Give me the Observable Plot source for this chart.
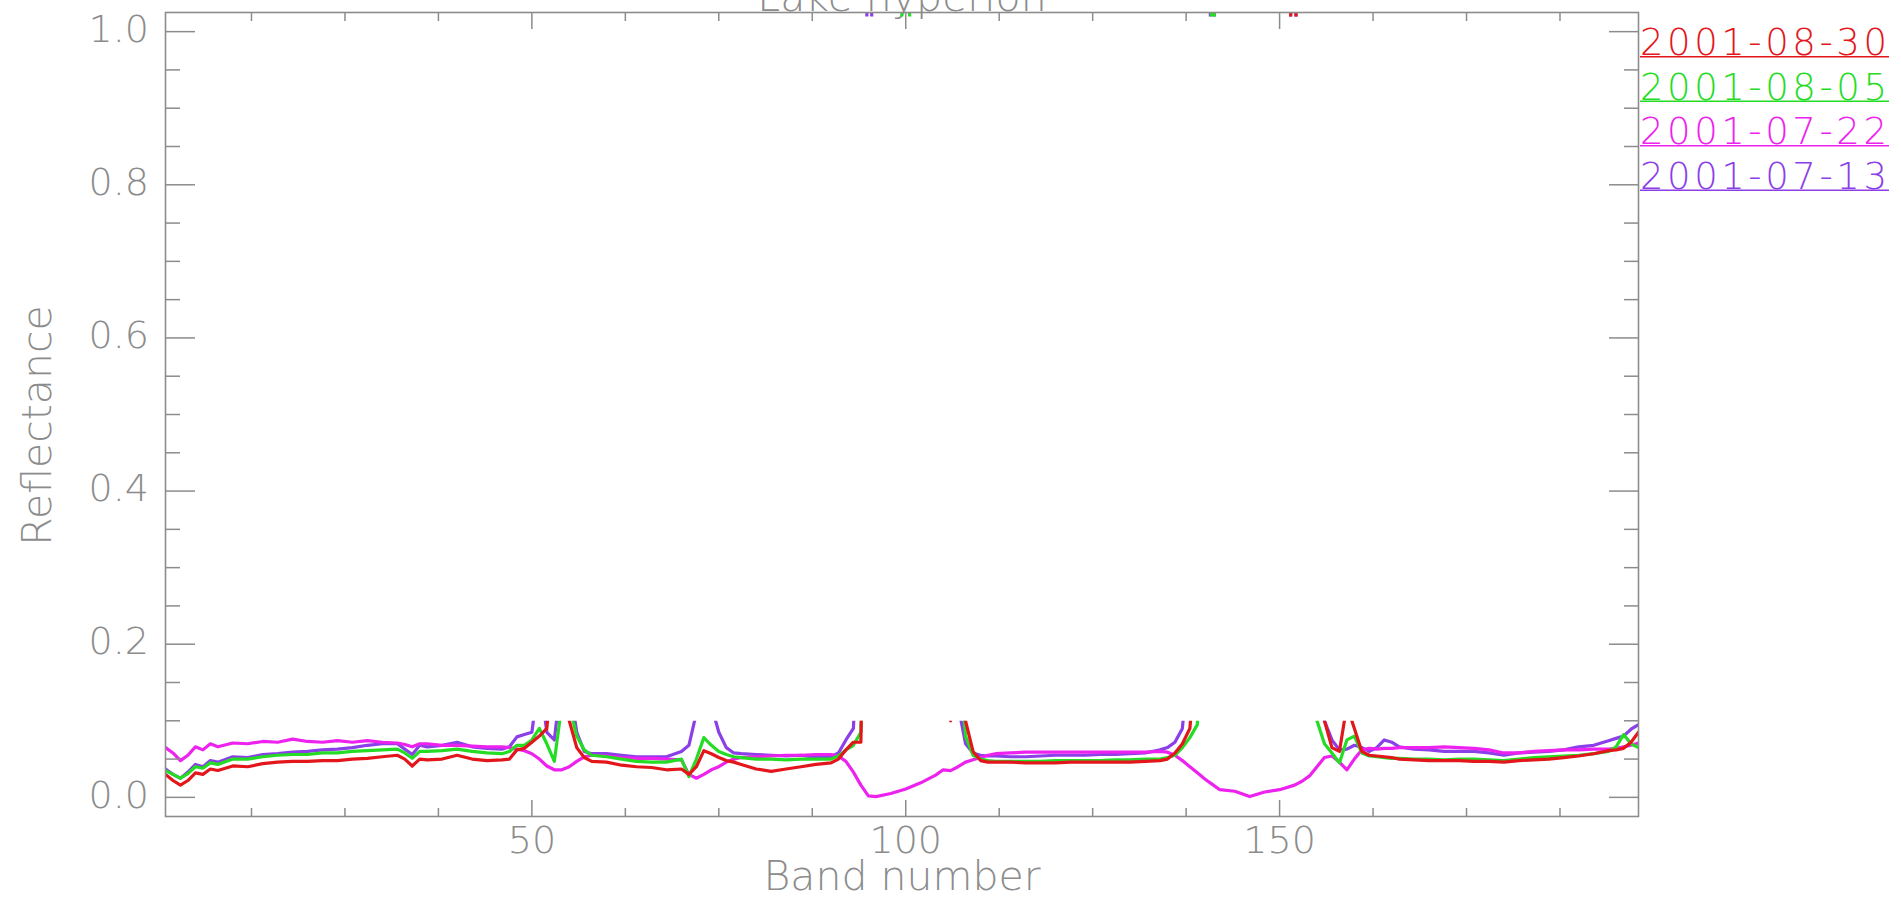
<!DOCTYPE html>
<html><head><meta charset="utf-8">
<script src="https://cdn.jsdelivr.net/npm/d3@7"></script>
<script src="https://cdn.jsdelivr.net/npm/@observablehq/plot@0.6"></script>
<style>
html,body{margin:0;padding:0;background:#fff;overflow:hidden;}
#chart{position:relative;width:1901px;height:901px;overflow:hidden;}
</style></head><body><div id="chart"></div>
<script>
const chartTitle = "Lake hyperion";
const xTitle = "Band number";
const yTitle = "Reflectance";
const seriesNames = ["2001-08-30", "2001-08-05", "2001-07-22", "2001-07-13"];
const seriesColors = ["#e3161b", "#25dc25", "#ee22ee", "#8b3fe8"];
const drawOrder = ["2001-07-13", "2001-07-22", "2001-08-05", "2001-08-30"];

const bands = [1,2,3,4,5,6,7,8,10,12,14,16,18,20,22,24,26,28,30,32,33,34,35,36,38,40,42,44,46,47,48,49,50,51,52,53,54,55,56,57,58,60,62,64,66,68,70,71,72,73,74,75,76,77,78,80,82,84,86,88,90,91,92,93,94,95,96,98,100,102,104,105,106,107,108,109,110,111,112,114,116,118,120,122,124,126,128,130,132,134,135,136,137,138,139,140,141,142,144,146,148,150,152,153,154,155,156,157,158,159,160,161,162,163,164,165,166,168,170,172,174,176,178,180,182,184,186,188,190,192,194,195,196,197,198];

const refl_20010830 = [0.030,0.022,0.016,0.022,0.032,0.030,0.037,0.035,0.041,0.040,0.044,0.046,0.047,0.047,0.048,0.048,0.050,0.051,0.053,0.055,0.050,0.041,0.050,0.049,0.050,0.055,0.050,0.048,0.049,0.050,0.062,0.064,0.072,0.080,0.090,0.2,0.2,0.1,0.065,0.052,0.047,0.046,0.042,0.040,0.039,0.036,0.037,0.030,0.040,0.061,0.057,0.052,0.048,0.046,0.043,0.037,0.034,0.037,0.040,0.043,0.045,0.050,0.062,0.072,0.072,0.6,0.7,0.7,0.7,0.6,0.4,0.2,0.1,0.2,0.10,0.06,0.048,0.046,0.046,0.046,0.045,0.045,0.045,0.046,0.046,0.046,0.046,0.046,0.047,0.048,0.050,0.058,0.070,0.090,0.2,0.5,0.8,0.8,0.7,0.7,0.7,0.8,1.1,0.7,0.4,0.2,0.1,0.065,0.060,0.12,0.09,0.060,0.055,0.054,0.053,0.052,0.050,0.049,0.048,0.048,0.048,0.047,0.047,0.046,0.048,0.049,0.050,0.052,0.054,0.057,0.061,0.062,0.064,0.072,0.085];

const refl_20010805 = [0.035,0.030,0.025,0.031,0.040,0.038,0.045,0.043,0.050,0.050,0.053,0.055,0.056,0.056,0.058,0.058,0.060,0.061,0.062,0.063,0.058,0.051,0.060,0.060,0.061,0.063,0.060,0.058,0.057,0.060,0.068,0.068,0.075,0.090,0.070,0.047,0.12,0.12,0.080,0.062,0.055,0.053,0.050,0.047,0.046,0.046,0.050,0.027,0.050,0.078,0.068,0.060,0.056,0.053,0.052,0.050,0.050,0.049,0.050,0.050,0.050,0.054,0.062,0.068,0.085,0.5,0.6,0.8,1.1,0.8,0.6,0.5,0.4,0.2,0.08,0.055,0.050,0.048,0.047,0.047,0.047,0.047,0.048,0.048,0.048,0.048,0.049,0.049,0.050,0.050,0.052,0.055,0.065,0.078,0.095,0.4,1.1,0.8,0.7,0.7,0.7,0.7,0.6,0.4,0.2,0.1,0.070,0.058,0.045,0.075,0.080,0.058,0.054,0.053,0.052,0.051,0.051,0.050,0.050,0.049,0.050,0.050,0.049,0.048,0.050,0.052,0.053,0.054,0.055,0.057,0.060,0.066,0.082,0.070,0.065];

const refl_20010722 = [0.065,0.058,0.048,0.055,0.066,0.062,0.070,0.066,0.071,0.070,0.073,0.072,0.076,0.073,0.072,0.074,0.072,0.074,0.072,0.071,0.069,0.066,0.070,0.070,0.068,0.068,0.067,0.066,0.066,0.065,0.063,0.061,0.057,0.050,0.041,0.036,0.036,0.040,0.047,0.053,0.055,0.054,0.052,0.051,0.051,0.050,0.049,0.030,0.025,0.030,0.036,0.040,0.046,0.050,0.052,0.053,0.054,0.055,0.055,0.056,0.056,0.054,0.047,0.033,0.016,0.002,0.001,0.005,0.011,0.019,0.029,0.036,0.035,0.040,0.046,0.049,0.052,0.055,0.057,0.058,0.059,0.059,0.059,0.059,0.059,0.059,0.059,0.059,0.059,0.060,0.059,0.055,0.048,0.040,0.032,0.024,0.017,0.010,0.008,0.001,0.007,0.010,0.016,0.021,0.028,0.040,0.052,0.054,0.046,0.036,0.050,0.062,0.064,0.063,0.064,0.064,0.065,0.065,0.065,0.066,0.065,0.064,0.062,0.058,0.058,0.060,0.061,0.062,0.062,0.063,0.063,0.064,0.066,0.068,0.071];

const refl_20010713 = [0.037,0.030,0.025,0.033,0.043,0.040,0.048,0.046,0.053,0.052,0.056,0.057,0.059,0.060,0.062,0.063,0.065,0.068,0.070,0.070,0.063,0.056,0.068,0.066,0.068,0.072,0.066,0.064,0.063,0.066,0.079,0.082,0.085,0.16,0.085,0.075,0.16,0.15,0.085,0.060,0.057,0.057,0.055,0.053,0.053,0.053,0.060,0.068,0.11,0.16,0.12,0.085,0.065,0.058,0.057,0.056,0.055,0.054,0.055,0.052,0.053,0.058,0.075,0.09,0.30,1.2,0.8,0.7,0.7,0.7,0.6,0.5,0.3,0.12,0.07,0.058,0.055,0.054,0.054,0.053,0.053,0.054,0.055,0.055,0.055,0.056,0.056,0.057,0.058,0.062,0.065,0.072,0.09,0.2,0.5,0.8,1.1,0.8,0.7,0.7,0.7,0.8,1.1,0.7,0.4,0.2,0.1,0.075,0.062,0.063,0.068,0.065,0.060,0.065,0.075,0.072,0.066,0.063,0.062,0.060,0.060,0.060,0.058,0.055,0.058,0.059,0.060,0.062,0.066,0.068,0.074,0.077,0.080,0.089,0.095];

const yMajorTicks = [0, 0.2, 0.4, 0.6, 0.8, 1.0];
const yMinorTicks = [0.05,0.1,0.15,0.25,0.3,0.35,0.45,0.5,0.55,0.65,0.7,0.75,0.85,0.9,0.95];
const xMajorTicks = [50, 100, 150];
const xMinorTicks = [12.5,25,37.5,62.5,75,87.5,112.5,125,137.5,162.5,175,187.5];
const xDomain = [1, 198];
const yDomain = [-0.025, 1.025];
const maskLevel = 0.1;

const seriesValues = {
  "2001-08-30": refl_20010830,
  "2001-08-05": refl_20010805,
  "2001-07-22": refl_20010722,
  "2001-07-13": refl_20010713
};
const rows = [];
for (const name of drawOrder) {
  seriesValues[name].forEach((v, i) => rows.push({band: bands[i], value: v, series: name}));
}

const axisColor = "#8c8c8c";
const font = "'DejaVu Sans', sans-serif";

const lineMarks = drawOrder.map(name =>
  Plot.line(rows.filter(r => r.series === name), {x: "band", y: "value", stroke: "series", strokeWidth: 3.2, strokeLinejoin: "round"})
);

const plot = Plot.plot({
  width: 1901,
  height: 901,
  marginLeft: 165,
  marginRight: 263,
  marginTop: 12,
  marginBottom: 85,
  style: {fontFamily: font, fontWeight: 200, background: "#fff", color: axisColor},
  x: {domain: xDomain, label: null},
  y: {domain: yDomain, label: null},
  color: {domain: seriesNames, range: seriesColors},
  marks: [
    Plot.text([chartTitle], {frameAnchor: "top", text: d => d, fontSize: 41, fill: axisColor, textAnchor: "middle", lineAnchor: "top", dy: -31, ariaLabel: "title"}),
    ...lineMarks,
    Plot.frame({stroke: axisColor, strokeWidth: 1.6}),
    Plot.axisY(yMajorTicks, {anchor: "left", tickSize: -30, strokeWidth: 1.5, tickFormat: () => "", label: null}),
    Plot.axisY(yMinorTicks, {anchor: "left", tickSize: -15, strokeWidth: 1.5, tickFormat: () => "", label: null}),
    Plot.axisY(yMajorTicks, {anchor: "right", tickSize: -30, strokeWidth: 1.5, tickFormat: () => "", label: null}),
    Plot.axisY(yMinorTicks, {anchor: "right", tickSize: -15, strokeWidth: 1.5, tickFormat: () => "", label: null}),
    Plot.axisY(yMajorTicks, {anchor: "left", tickSize: 0, tickPadding: 16.5, tickFormat: d3.format(".1f"), fontSize: 38, dy: -2, label: null}),
    Plot.axisX(xMajorTicks, {anchor: "bottom", tickSize: -16, strokeWidth: 1.5, tickFormat: () => "", label: null}),
    Plot.axisX(xMinorTicks, {anchor: "bottom", tickSize: -8, strokeWidth: 1.5, tickFormat: () => "", label: null}),
    Plot.axisX(xMajorTicks, {anchor: "top", tickSize: -16, strokeWidth: 1.5, tickFormat: () => "", label: null}),
    Plot.axisX(xMinorTicks, {anchor: "top", tickSize: -8, strokeWidth: 1.5, tickFormat: () => "", label: null}),
    Plot.axisX(xMajorTicks, {anchor: "bottom", tickSize: 0, tickPadding: 10, tickFormat: d3.format("d"), fontSize: 38, label: null}),
    Plot.text([xTitle], {frameAnchor: "bottom", text: d => d, fontSize: 41, fill: axisColor, textAnchor: "middle", lineAnchor: "bottom", dy: 73}),
    Plot.text([yTitle], {frameAnchor: "left", text: d => d, fontSize: 41, fill: axisColor, textAnchor: "middle", rotate: -90, lineAnchor: "bottom", dx: -115, dy: 11})
  ]
});

document.getElementById("chart").appendChild(plot);

const svg = d3.select(plot);
const xs = plot.scale("x"), ys = plot.scale("y");
const [xl, xr] = xs.range;
const yBottom = ys.range[0], yTop = ys.range[1];
const yCut = ys.apply(maskLevel);
const defs = svg.append("defs");

// Mask: the lines are only visible below the 0.1 level and in a thin strip at the top frame
const cp = defs.append("clipPath").attr("id", "line-mask");
cp.append("rect").attr("x", xl).attr("y", yCut).attr("width", xr - xl).attr("height", yBottom - yCut);
cp.append("rect").attr("x", xl).attr("y", yTop).attr("width", xr - xl).attr("height", 4);
svg.selectAll('g[aria-label="line"]').attr("clip-path", "url(#line-mask)");

// The title sits above the frame; anything below the frame top is hidden
const tp = defs.append("clipPath").attr("id", "title-mask");
tp.append("rect").attr("x", 0).attr("y", -100).attr("width", 1901).attr("height", yTop + 100);
svg.selectAll('g[aria-label="title"]').attr("clip-path", "url(#title-mask)");

// Legend at right, outside the frame
const lg = svg.append("g").attr("font-family", font).attr("font-weight", 200).attr("text-anchor", "start");
const rowH = 44.5;
seriesNames.forEach((name, i) => {
  const base = yTop + 43 + i * rowH;
  lg.append("text")
    .attr("x", xr + 2).attr("y", base)
    .attr("font-size", 37)
    .attr("text-anchor", "start")
    .attr("fill", seriesColors[i])
    .attr("textLength", 247).attr("lengthAdjust", "spacing")
    .text(name);
  lg.append("line")
    .attr("x1", xr + 2).attr("x2", xr + 251)
    .attr("y1", base + 1.8).attr("y2", base + 1.8)
    .attr("stroke", seriesColors[i]).attr("stroke-width", 1.4);
});
</script></body></html>
